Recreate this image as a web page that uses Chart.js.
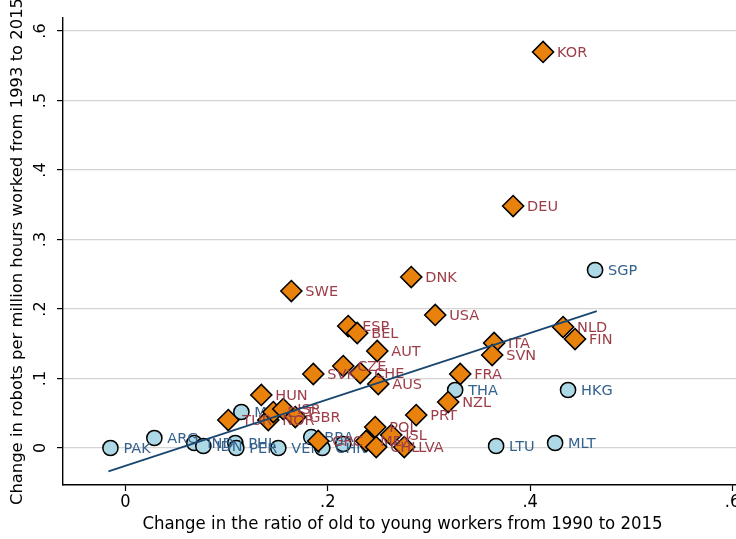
<!DOCTYPE html>
<html><head><meta charset="utf-8">
<script src="https://cdn.jsdelivr.net/npm/chart.js@4"></script>
<style>html,body{margin:0;padding:0;background:#fff;overflow:hidden}</style>
</head><body>
<canvas id="c" width="736" height="539"></canvas>
<script>
// OECD (orange diamonds)
const oecdCodes = ['KOR','DEU','DNK','SWE','USA','ESP','BEL','AUT','NLD','FIN','ITA','SVN','FRA','NZL','PRT','CZE','CHE','AUS','SVK','HUN','TUR','NOR','EST','ISR','GBR','GRC','MEX','POL','ISL','CHL','LVA'];
const oecdX = [0.4128,0.3832,0.2825,0.1640,0.3062,0.2202,0.2291,0.2489,0.4326,0.4444,0.3644,0.3625,0.3309,0.3190,0.2874,0.2153,0.2321,0.2499,0.1857,0.1343,0.1017,0.1412,0.1462,0.1560,0.1679,0.1906,0.2380,0.2469,0.2627,0.2479,0.2756];
const oecdY = [0.5698,0.3482,0.2460,0.2259,0.1914,0.1755,0.1655,0.1396,0.1741,0.1568,0.1511,0.1338,0.1065,0.0662,0.0475,0.1180,0.1079,0.0921,0.1065,0.0763,0.0403,0.0403,0.0518,0.0561,0.0446,0.0101,0.0101,0.0302,0.0187,0.0014,0.0014];
// Non-OECD (light blue circles)
const otherCodes = ['PAK','ARG','IND','IDN','PHL','PER','MYS','VEN','BRA','CHN','ROU','THA','HKG','SGP','LTU','MLT'];
const otherX = [-0.0148,0.0286,0.0681,0.0770,0.1086,0.1096,0.1146,0.1511,0.1837,0.1946,0.2153,0.3259,0.4375,0.4642,0.3664,0.4247];
const otherY = [0.0000,0.0144,0.0072,0.0029,0.0072,0.0000,0.0518,0.0000,0.0158,0.0000,0.0058,0.0835,0.0835,0.2561,0.0029,0.0072];
// Fitted line
const fitX = [-0.0168, 0.4659];
const fitY = [-0.0335, 0.1971];
// Ticks
const xTicks = [0, 0.2, 0.4, 0.6];
const xTickLabels = ['0', '.2', '.4', '.6'];
const yTicks = [0, 0.1, 0.2, 0.3, 0.4, 0.5, 0.6];
const yTickLabels = ['0', '.1', '.2', '.3', '.4', '.5', '.6'];
const xTitle = 'Change in the ratio of old to young workers from 1990 to 2015';
const yTitle = 'Change in robots per million hours worked from 1993 to 2015';

const toPts = (xs, ys) => xs.map((x, i) => ({x: x, y: ys[i]}));

const labelPlugin = {
  id: 'labels',
  afterDatasetDraw(chart, args) {
    const ds = chart.data.datasets[args.index];
    if (!ds.codes) return;
    const ctx = chart.ctx;
    ctx.save();
    ctx.font = '14.5px "DejaVu Sans"';
    ctx.fillStyle = ds.labelColor;
    ctx.textAlign = 'left';
    ctx.textBaseline = 'middle';
    args.meta.data.forEach((el, i) => {
      ctx.fillText(ds.codes[i], el.x + ds.labelGap, el.y + 1);
    });
    ctx.restore();
  },
  afterDraw(chart) {
    const ctx = chart.ctx;
    const xs = chart.scales.x, ys = chart.scales.y;
    const ca = chart.chartArea;
    ctx.save();
    ctx.fillStyle = '#000';
    // x tick labels
    ctx.font = '18px "DejaVu Sans Condensed", "DejaVu Sans"';
    ctx.textAlign = 'center';
    ctx.textBaseline = 'middle';
    xTicks.forEach((v, i) => ctx.fillText(xTickLabels[i], xs.getPixelForValue(v), 502));
    // x title
    ctx.font = '18.4px "DejaVu Sans Condensed", "DejaVu Sans"';
    ctx.fillText(xTitle, (ca.left + ca.right) / 2 + 3, 524);
    // y tick labels (rotated)
    ctx.font = '16px "DejaVu Sans"';
    yTicks.forEach((v, i) => {
      ctx.save();
      ctx.translate(41, ys.getPixelForValue(v));
      ctx.rotate(-Math.PI / 2);
      ctx.fillText(yTickLabels[i], 0, 0);
      ctx.restore();
    });
    // y title
    ctx.save();
    ctx.font = '16.4px "DejaVu Sans"';
    ctx.translate(18, (ca.top + ca.bottom) / 2);
    ctx.rotate(-Math.PI / 2);
    ctx.fillText(yTitle, 0, 0);
    ctx.restore();
    ctx.restore();
  }
};

new Chart(document.getElementById('c'), {
  type: 'scatter',
  data: {
    datasets: [
      {
        type: 'line',
        data: toPts(fitX, fitY),
        borderColor: '#1a476f',
        borderWidth: 1.8,
        pointRadius: 0,
        fill: false,
        order: 1
      },
      {
        data: toPts(oecdX, oecdY),
        codes: oecdCodes,
        labelColor: '#9c3e48',
        labelGap: 14,
        pointStyle: 'rectRot',
        pointRadius: 10.5,
        backgroundColor: '#e8820c',
        borderColor: '#000',
        borderWidth: 1.6,
        order: 2
      },
      {
        data: toPts(otherX, otherY),
        codes: otherCodes,
        labelColor: '#34628c',
        labelGap: 13,
        pointStyle: 'circle',
        pointRadius: 7.6,
        backgroundColor: '#add8e6',
        borderColor: '#000',
        borderWidth: 1.5,
        order: 3
      }
    ]
  },
  options: {
    responsive: false,
    devicePixelRatio: 1,
    animation: false,
    events: [],
    layout: {autoPadding: false, padding: {top: 18, right: 0, left: 0, bottom: 0}},
    plugins: {legend: {display: false}, tooltip: {enabled: false}},
    scales: {
      x: {
        type: 'linear',
        min: -0.0617, max: 0.6035,
        afterBuildTicks: s => { s.ticks = xTicks.map(v => ({value: v})); },
        afterFit: s => { s.height = 54; s.paddingLeft = 0; s.paddingRight = 0; },
        ticks: {display: false},
        grid: {drawOnChartArea: false, drawTicks: true, tickLength: 6, tickColor: '#000', tickWidth: 1.2},
        border: {display: true, color: '#000', width: 1.4}
      },
      y: {
        type: 'linear',
        min: -0.0532, max: 0.6187,
        afterBuildTicks: s => { s.ticks = yTicks.map(v => ({value: v})); },
        afterFit: s => { s.width = 63; s.paddingTop = 0; s.paddingBottom = 0; },
        ticks: {display: false},
        grid: {color: '#d4d4d4', lineWidth: 1.2, drawTicks: true, tickLength: 6, tickColor: '#000', tickWidth: 1.2},
        border: {display: true, color: '#000', width: 1.4}
      }
    }
  },
  plugins: [labelPlugin]
});
</script>
</body></html>
